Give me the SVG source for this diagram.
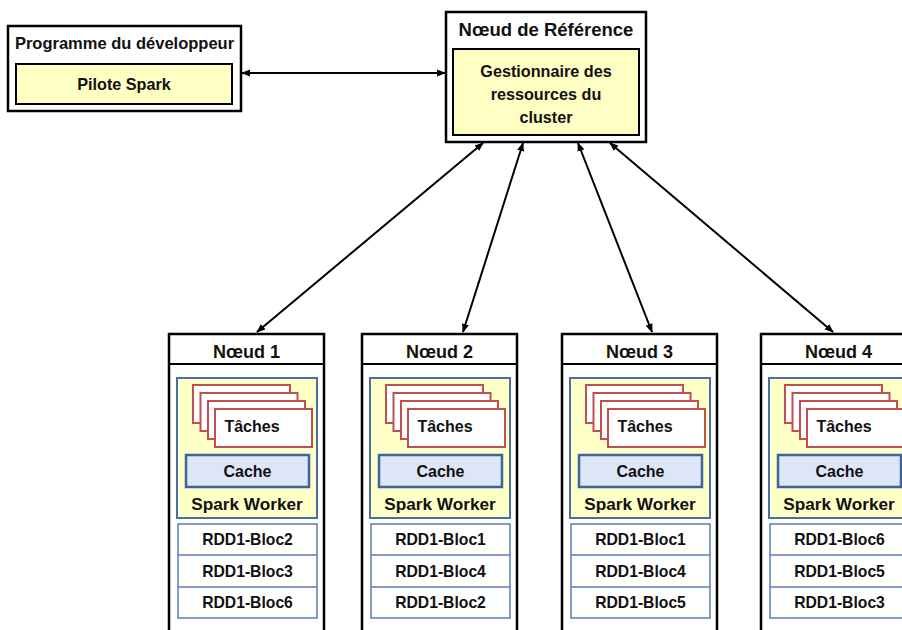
<svg xmlns="http://www.w3.org/2000/svg" width="902" height="630" viewBox="0 0 902 630">
<defs>
<marker id="ah" viewBox="0 0 10 10" refX="9" refY="5" markerWidth="9" markerHeight="9" markerUnits="userSpaceOnUse" orient="auto-start-reverse">
<path d="M0,1 L10,5 L0,9 z" fill="#000"/>
</marker>
<g id="tasks">
<rect x="0" y="0" width="97" height="38" fill="#fff" stroke="#C0504D" stroke-width="2"/>
<rect x="7.5" y="8" width="97" height="38" fill="#fff" stroke="#C0504D" stroke-width="2"/>
<rect x="15" y="16" width="97" height="38" fill="#fff" stroke="#C0504D" stroke-width="2"/>
<rect x="22" y="24" width="97" height="38" fill="#fff" stroke="#C0504D" stroke-width="2"/>
</g>
</defs>
<style>
text{font-family:"Liberation Sans",Arial,sans-serif;font-weight:bold;fill:#111;text-anchor:middle}
.hd{font-size:18.5px}
.nh{font-size:18px}
.pg{font-size:16.5px}
.t16{font-size:16.2px}
.tk{font-size:16px}
.ca{font-size:16px}
.sw{font-size:17.2px}
.t14{font-size:15.7px}
.outer{fill:#fff;stroke:#000;stroke-width:2.5}
.inner{fill:#FFFFC4;stroke:#000;stroke-width:2}
.worker{fill:#FFFFC8;stroke:#4A6EA0;stroke-width:2}
.cache{fill:#DCE6F7;stroke:#3E64A0;stroke-width:2.5}
.rdd{fill:#fff;stroke:#5A7DB5;stroke-width:1.5}
.conn{stroke:#000;stroke-width:2;fill:none;marker-start:url(#ah);marker-end:url(#ah)}
</style>
<rect width="902" height="630" fill="#fff"/>

<g id="dev">
<rect class="outer" x="8" y="26" width="233" height="85"/>
<text class="pg" x="124.5" y="49">Programme du développeur</text>
<rect class="inner" x="16" y="64" width="216" height="40"/>
<text class="t16" x="124" y="90">Pilote Spark</text>
</g>

<g id="ref">
<rect class="outer" x="446" y="12" width="200" height="130"/>
<text class="hd" x="546" y="36">Nœud de Référence</text>
<rect class="inner" x="453" y="49" width="186" height="86"/>
<text class="t16" x="546" y="77">Gestionnaire des</text>
<text class="t16" x="546" y="100">ressources du</text>
<text class="t16" x="546" y="123">cluster</text>
</g>

<g id="connectors">
<line class="conn" x1="242" y1="73" x2="445" y2="73"/>
<line class="conn" x1="483" y1="143" x2="257" y2="332"/>
<line class="conn" x1="523" y1="143" x2="463" y2="332"/>
<line class="conn" x1="578" y1="143" x2="652" y2="332"/>
<line class="conn" x1="610" y1="143" x2="833" y2="332"/>
</g>

<g id="node1" transform="translate(169,0)">
<rect class="outer" x="0" y="334" width="155" height="310"/>
<line x1="0" y1="364" x2="155" y2="364" stroke="#000" stroke-width="2"/>
<text class="nh" x="77.5" y="358">Nœud 1</text>
<rect class="worker" x="8" y="378" width="140" height="140"/>
<use href="#tasks" x="24" y="385"/>
<text class="tk" x="83" y="432">Tâches</text>
<rect class="cache" x="17" y="455" width="123" height="32"/>
<text class="ca" x="78.5" y="477">Cache</text>
<text class="sw" x="78" y="510">Spark Worker</text>
<rect class="rdd" x="9" y="524" width="139" height="94"/>
<line class="rdd" x1="9" y1="555" x2="148" y2="555"/>
<line class="rdd" x1="9" y1="587" x2="148" y2="587"/>
<text class="t14" x="78.5" y="545">RDD1-Bloc2</text>
<text class="t14" x="78.5" y="577">RDD1-Bloc3</text>
<text class="t14" x="78.5" y="608">RDD1-Bloc6</text>
</g>

<g id="node2" transform="translate(362,0)">
<rect class="outer" x="0" y="334" width="155" height="310"/>
<line x1="0" y1="364" x2="155" y2="364" stroke="#000" stroke-width="2"/>
<text class="nh" x="77.5" y="358">Nœud 2</text>
<rect class="worker" x="8" y="378" width="140" height="140"/>
<use href="#tasks" x="24" y="385"/>
<text class="tk" x="83" y="432">Tâches</text>
<rect class="cache" x="17" y="455" width="123" height="32"/>
<text class="ca" x="78.5" y="477">Cache</text>
<text class="sw" x="78" y="510">Spark Worker</text>
<rect class="rdd" x="9" y="524" width="139" height="94"/>
<line class="rdd" x1="9" y1="555" x2="148" y2="555"/>
<line class="rdd" x1="9" y1="587" x2="148" y2="587"/>
<text class="t14" x="78.5" y="545">RDD1-Bloc1</text>
<text class="t14" x="78.5" y="577">RDD1-Bloc4</text>
<text class="t14" x="78.5" y="608">RDD1-Bloc2</text>
</g>

<g id="node3" transform="translate(562,0)">
<rect class="outer" x="0" y="334" width="155" height="310"/>
<line x1="0" y1="364" x2="155" y2="364" stroke="#000" stroke-width="2"/>
<text class="nh" x="77.5" y="358">Nœud 3</text>
<rect class="worker" x="8" y="378" width="140" height="140"/>
<use href="#tasks" x="24" y="385"/>
<text class="tk" x="83" y="432">Tâches</text>
<rect class="cache" x="17" y="455" width="123" height="32"/>
<text class="ca" x="78.5" y="477">Cache</text>
<text class="sw" x="78" y="510">Spark Worker</text>
<rect class="rdd" x="9" y="524" width="139" height="94"/>
<line class="rdd" x1="9" y1="555" x2="148" y2="555"/>
<line class="rdd" x1="9" y1="587" x2="148" y2="587"/>
<text class="t14" x="78.5" y="545">RDD1-Bloc1</text>
<text class="t14" x="78.5" y="577">RDD1-Bloc4</text>
<text class="t14" x="78.5" y="608">RDD1-Bloc5</text>
</g>

<g id="node4" transform="translate(761,0)">
<rect class="outer" x="0" y="334" width="155" height="310"/>
<line x1="0" y1="364" x2="155" y2="364" stroke="#000" stroke-width="2"/>
<text class="nh" x="77.5" y="358">Nœud 4</text>
<rect class="worker" x="8" y="378" width="140" height="140"/>
<use href="#tasks" x="24" y="385"/>
<text class="tk" x="83" y="432">Tâches</text>
<rect class="cache" x="17" y="455" width="123" height="32"/>
<text class="ca" x="78.5" y="477">Cache</text>
<text class="sw" x="78" y="510">Spark Worker</text>
<rect class="rdd" x="9" y="524" width="139" height="94"/>
<line class="rdd" x1="9" y1="555" x2="148" y2="555"/>
<line class="rdd" x1="9" y1="587" x2="148" y2="587"/>
<text class="t14" x="78.5" y="545">RDD1-Bloc6</text>
<text class="t14" x="78.5" y="577">RDD1-Bloc5</text>
<text class="t14" x="78.5" y="608">RDD1-Bloc3</text>
</g>
</svg>
